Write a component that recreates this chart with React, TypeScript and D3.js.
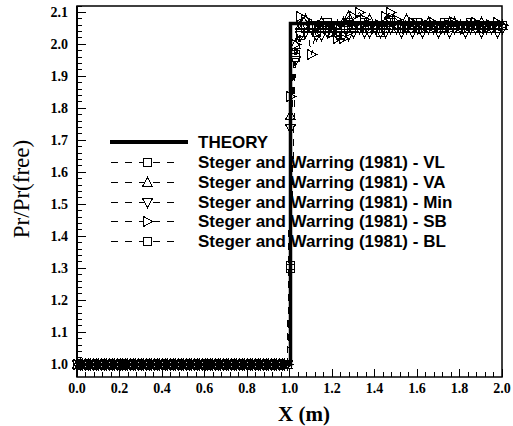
import React from 'react';
import * as d3 from 'd3';

// x positions of the computed nodes (m): fine spacing upstream, coarser downstream
const xNodes = [
  0, 0.0125, 0.025, 0.0375, 0.05, 0.0625, 0.075, 0.0875, 0.1, 0.1125,
  0.125, 0.1375, 0.15, 0.1625, 0.175, 0.1875, 0.2, 0.2125, 0.225, 0.2375,
  0.25, 0.2625, 0.275, 0.2875, 0.3, 0.3125, 0.325, 0.3375, 0.35, 0.3625,
  0.375, 0.3875, 0.4, 0.4125, 0.425, 0.4375, 0.45, 0.4625, 0.475, 0.4875,
  0.5, 0.5125, 0.525, 0.5375, 0.55, 0.5625, 0.575, 0.5875, 0.6, 0.6125,
  0.625, 0.6375, 0.65, 0.6625, 0.675, 0.6875, 0.7, 0.7125, 0.725, 0.7375,
  0.75, 0.7625, 0.775, 0.7875, 0.8, 0.8125, 0.825, 0.8375, 0.85, 0.8625,
  0.875, 0.8875, 0.9, 0.9125, 0.925, 0.9375, 0.95, 0.9625, 0.975, 0.9875,
  1.0,
  1.025, 1.05, 1.075, 1.1, 1.125, 1.15, 1.175, 1.2, 1.225, 1.25,
  1.275, 1.3, 1.325, 1.35, 1.375, 1.4, 1.425, 1.45, 1.475, 1.5,
  1.525, 1.55, 1.575, 1.6, 1.625, 1.65, 1.675, 1.7, 1.725, 1.75,
  1.775, 1.8, 1.825, 1.85, 1.875, 1.9, 1.925, 1.95, 1.975, 2.0,
];

// pressure ratio upstream of the shock (x = 0 .. 0.9875), same for every scheme
const preShock = [
  1.0, 1.0, 1.0, 1.0, 1.0, 1.0, 1.0, 1.0, 1.0, 1.0,
  1.0, 1.0, 1.0, 1.0, 1.0, 1.0, 1.0, 1.0, 1.0, 1.0,
  1.0, 1.0, 1.0, 1.0, 1.0, 1.0, 1.0, 1.0, 1.0, 1.0,
  1.0, 1.0, 1.0, 1.0, 1.0, 1.0, 1.0, 1.0, 1.0, 1.0,
  1.0, 1.0, 1.0, 1.0, 1.0, 1.0, 1.0, 1.0, 1.0, 1.0,
  1.0, 1.0, 1.0, 1.0, 1.0, 1.0, 1.0, 1.0, 1.0, 1.0,
  1.0, 1.0, 1.0, 1.0, 1.0, 1.0, 1.0, 1.0, 1.0, 1.0,
  1.0, 1.0, 1.0, 1.0, 1.0, 1.0, 1.0, 1.0, 1.0, 1.0,
];

// value at the shock node (x = 1.0) and downstream (x = 1.025 .. 2.0)
const vlShock = [1.3];
const vlPost = [
  1.97, 2.04, 2.05, 2.06, 2.04, 2.06, 2.07, 2.06, 2.04, 2.06,
  2.07, 2.05, 2.06, 2.07, 2.05, 2.06, 2.04, 2.06, 2.07, 2.06,
  2.05, 2.06, 2.07, 2.07, 2.05, 2.06, 2.05, 2.06, 2.07, 2.06,
  2.06, 2.05, 2.06, 2.07, 2.06, 2.05, 2.06, 2.06, 2.05, 2.06,
];
const vaShock = [1.78];
const vaPost = [
  2.0, 2.06, 2.08, 2.06, 2.05, 2.07, 2.05, 2.04, 2.06, 2.07,
  2.09, 2.06, 2.05, 2.06, 2.08, 2.06, 2.05, 2.07, 2.06, 2.05,
  2.06, 2.08, 2.06, 2.05, 2.06, 2.07, 2.06, 2.05, 2.06, 2.07,
  2.07, 2.06, 2.05, 2.06, 2.06, 2.07, 2.06, 2.05, 2.06, 2.06,
];
const minShock = [1.74];
const minPost = [
  1.95, 2.03, 2.04, 2.05, 2.03, 2.03, 2.04, 2.05, 2.03, 2.03,
  2.03, 2.04, 2.05, 2.04, 2.04, 2.05, 2.04, 2.04, 2.05, 2.05,
  2.04, 2.05, 2.04, 2.05, 2.04, 2.05, 2.05, 2.04, 2.05, 2.04,
  2.05, 2.05, 2.04, 2.05, 2.05, 2.04, 2.05, 2.05, 2.04, 2.05,
];
const sbShock = [1.84];
const sbPost = [
  2.0, 2.09, 2.08, 1.97, 2.05, 2.06, 2.05, 2.04, 2.02, 2.02,
  2.05, 2.09, 2.1, 2.08, 2.06, 2.05, 2.06, 2.09, 2.1, 2.08,
  2.06, 2.05, 2.07, 2.06, 2.05, 2.06, 2.07, 2.06, 2.05, 2.06,
  2.07, 2.06, 2.05, 2.06, 2.07, 2.06, 2.05, 2.06, 2.07, 2.06,
];
const blShock = [1.31];
const blPost = [
  1.96, 2.03, 2.05, 2.06, 2.06, 2.05, 2.06, 2.06, 2.05, 2.06,
  2.06, 2.06, 2.05, 2.06, 2.06, 2.06, 2.06, 2.05, 2.06, 2.06,
  2.06, 2.06, 2.05, 2.06, 2.06, 2.06, 2.06, 2.06, 2.05, 2.06,
  2.06, 2.06, 2.06, 2.06, 2.05, 2.06, 2.06, 2.06, 2.06, 2.06,
];

// exact solution
const theoryX = [0, 1.0, 1.0, 2.0];
const theoryY = [1.0, 1.0, 2.068, 2.068];

const seriesNames = [
  'Steger and Warring (1981) - VL',
  'Steger and Warring (1981) - VA',
  'Steger and Warring (1981) - Min',
  'Steger and Warring (1981) - SB',
  'Steger and Warring (1981) - BL',
];
const seriesMarkers = ['square', 'up', 'down', 'right', 'square'];
const seriesValues = [
  [...preShock, ...vlShock, ...vlPost],
  [...preShock, ...vaShock, ...vaPost],
  [...preShock, ...minShock, ...minPost],
  [...preShock, ...sbShock, ...sbPost],
  [...preShock, ...blShock, ...blPost],
];

const xTicks = [0, 0.2, 0.4, 0.6, 0.8, 1.0, 1.2, 1.4, 1.6, 1.8, 2.0];
const yTicks = [1.0, 1.1, 1.2, 1.3, 1.4, 1.5, 1.6, 1.7, 1.8, 1.9, 2.0, 2.1];

const width = 513;
const height = 426;
const serif = "'Liberation Serif', 'Times New Roman', serif";
const sans = "'Liberation Sans', Arial, sans-serif";

function markerPath(kind: string) {
  const h = 4;
  if (kind === 'square') return `M${-h},${-h}H${h}V${h}H${-h}Z`;
  if (kind === 'up') return `M0,${-h - 1}L${h + 1},${h}L${-h - 1},${h}Z`;
  if (kind === 'down') return `M0,${h + 1}L${h + 1},${-h}L${-h - 1},${-h}Z`;
  return `M${-h},${-h - 1}L${h + 1},0L${-h},${h + 1}Z`;
}

export default function App() {
  const x = d3.scaleLinear().domain([0, 2]).range([77, 502]);
  const y = d3.scaleLinear().domain([0.96, 2.12]).range([377, 6]);
  const fmt = d3.format('.1f');
  const xMinor = d3.range(0, 2.0001, 0.04);
  const yMinor = d3.range(1.0, 2.1201, 0.02);

  const line = d3
    .line<[number, number]>()
    .x((d) => Math.round(x(d[0])) + 0.5)
    .y((d) => Math.round(y(d[1])) + 0.5);

  const theory = theoryX.map((v, i) => [v, theoryY[i]] as [number, number]);
  const legendY = [142, 162, 182, 202, 221, 241];

  return (
    <svg
      width={width}
      height={height}
      style={{ position: 'absolute', left: 0, top: 0, background: '#fff' }}
    >
      <rect x={0} y={0} width={width} height={height} fill="#fff" />

      {/* minor and major ticks, pointing inwards */}
      <g stroke="#000" strokeWidth={1} shapeRendering="crispEdges">
        {xMinor.map((t, i) => (
          <line key={'xm' + i} x1={x(t)} x2={x(t)} y1={377} y2={372} />
        ))}
        {xTicks.map((t, i) => (
          <line key={'xM' + i} x1={x(t)} x2={x(t)} y1={377} y2={369} />
        ))}
        {yMinor.map((t, i) => (
          <line key={'ym' + i} x1={77} x2={82} y1={y(t)} y2={y(t)} />
        ))}
        {yTicks.map((t, i) => (
          <line key={'yM' + i} x1={77} x2={86} y1={y(t)} y2={y(t)} />
        ))}
      </g>

      {/* data */}
      <path d={line(theory) || ''} fill="none" stroke="#000" strokeWidth={3.5} />
      {seriesValues.map((vals, si) => {
        const pts = xNodes.map((v, i) => [v, vals[i]] as [number, number]);
        return (
          <g key={'s' + si} shapeRendering="crispEdges">
            <path
              d={line(pts) || ''}
              fill="none"
              stroke="#000"
              strokeWidth={1}
              strokeDasharray="7,6"
            />
            {pts.map((p, i) => (
              <path
                key={i}
                d={markerPath(seriesMarkers[si])}
                transform={`translate(${Math.round(x(p[0])) + 0.5},${Math.round(y(p[1])) + 0.5})`}
                fill="none"
                stroke="#000"
                strokeWidth={1}
              />
            ))}
          </g>
        );
      })}

      {/* frame */}
      <rect x={77} y={6} width={425} height={371} fill="none" stroke="#000" strokeWidth={1.5} />
      <line x1={77} x2={77} y1={6} y2={377} stroke="#000" strokeWidth={2} />

      {/* tick labels */}
      <g fontFamily={serif} fontWeight="bold" fontSize={14}>
        {xTicks.map((t, i) => (
          <text key={'xl' + i} x={x(t)} y={393} textAnchor="middle">
            {fmt(t)}
          </text>
        ))}
        {yTicks.map((t, i) => (
          <text key={'yl' + i} x={68} y={y(t) + 5} textAnchor="end">
            {fmt(t)}
          </text>
        ))}
      </g>

      {/* axis titles */}
      <text x={304} y={421} textAnchor="middle" fontFamily={serif} fontWeight="bold" fontSize={21}>
        X (m)
      </text>
      <text
        transform="translate(29,189) rotate(-90)"
        textAnchor="middle"
        fontFamily={serif}
        fontSize={23}
      >
        Pr/Pr(free)
      </text>

      {/* legend */}
      <g fontFamily={sans} fontWeight="bold" fontSize={17}>
        <line x1={110} x2={188} y1={legendY[0]} y2={legendY[0]} stroke="#000" strokeWidth={4} />
        <text x={198} y={legendY[0] + 6}>THEORY</text>
        {seriesNames.map((name, i) => (
          <g key={'lg' + i}>
            <line
              x1={111}
              x2={175}
              y1={legendY[i + 1] + 0.5}
              y2={legendY[i + 1] + 0.5}
              stroke="#000"
              strokeWidth={1}
              strokeDasharray="7,7"
              shapeRendering="crispEdges"
            />
            <path
              d={markerPath(seriesMarkers[i])}
              transform={`translate(147.5,${legendY[i + 1] + 0.5})`}
              fill="#fff"
              stroke="#000"
              strokeWidth={1}
              shapeRendering="crispEdges"
            />
            <text x={198} y={legendY[i + 1] + 6}>
              {name}
            </text>
          </g>
        ))}
      </g>
    </svg>
  );
}
